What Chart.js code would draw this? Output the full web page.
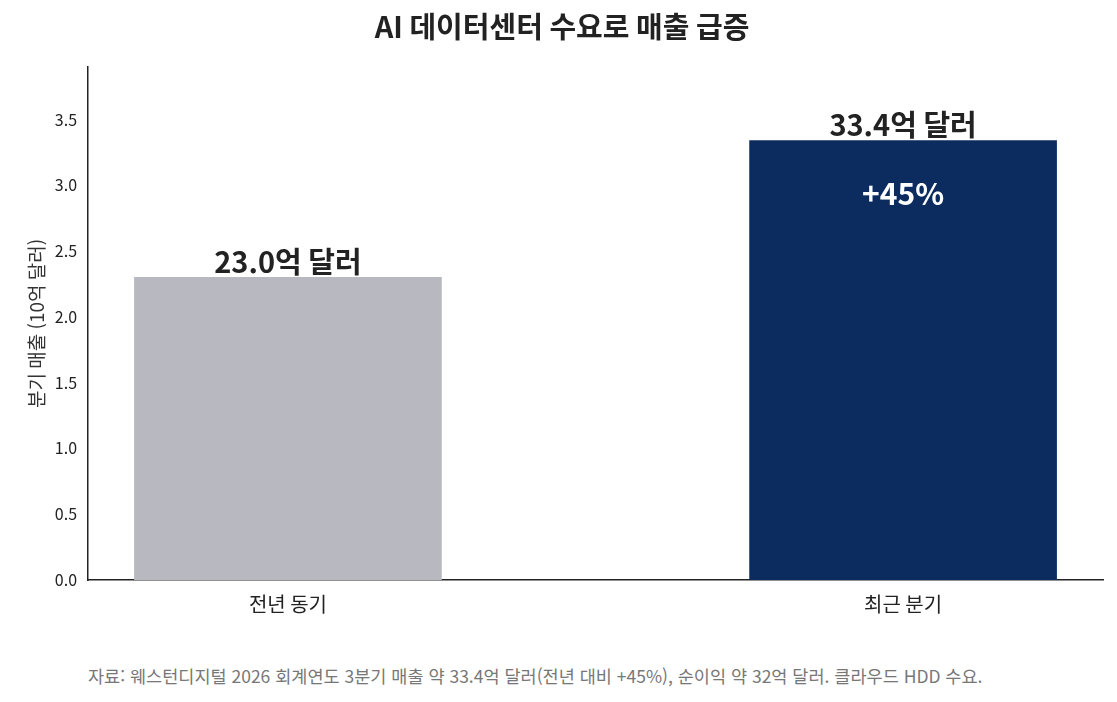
<!DOCTYPE html>
<html lang="ko">
<head>
<meta charset="utf-8">
<script src="https://cdn.jsdelivr.net/npm/chart.js@4"></script>
<style>
  body { margin: 0; background: #fff; font-family: "Noto Sans CJK KR", sans-serif; }
  #wrap { position: relative; width: 1117px; height: 702px; }
  #note { position: absolute; left: 88px; top: 663px; font-size: 17.5px; color: #777; }
</style>
</head>
<body>
<div id="wrap">
  <canvas id="c" width="1117" height="650"></canvas>
  <div id="note">자료: 웨스턴디지털 2026 회계연도 3분기 매출 약 33.4억 달러(전년 대비 +45%), 순이익 약 32억 달러. 클라우드 HDD 수요.</div>
</div>
<script>
const categories = ['전년 동기', '최근 분기'];
const revenue = [2.30, 3.34];
const barLabels = ['23.0억 달러', '33.4억 달러'];
const barColors = ['#b8b8c1', '#0c2c5f'];
const growthText = '+45%';
const font = '"Noto Sans CJK KR", sans-serif';

const labelPlugin = {
  id: 'labels',
  afterDatasetsDraw(chart) {
    const ctx = chart.ctx;
    const meta = chart.getDatasetMeta(0);
    ctx.save();
    ctx.textAlign = 'center';
    ctx.textBaseline = 'bottom';
    ctx.font = 'bold 29px ' + font;
    ctx.fillStyle = '#222';
    meta.data.forEach((bar, i) => ctx.fillText(barLabels[i], bar.x, bar.y - 1));
    const last = meta.data[1];
    ctx.fillStyle = '#fff';
    ctx.textBaseline = 'middle';
    ctx.font = 'bold 30px ' + font;
    ctx.fillText(growthText, last.x, last.y + 53);
    ctx.restore();
  }
};

new Chart(document.getElementById('c'), {
  type: 'bar',
  data: {
    datasets: [{
      data: revenue.map((v, i) => ({ x: i, y: v })),
      backgroundColor: barColors, barThickness: 307
    }]
  },
  options: {
    responsive: false,
    animation: false,
    layout: { padding: { left: 21, right: 14, top: 0, bottom: 30 } },
    plugins: {
      legend: { display: false },
      tooltip: { enabled: false },
      title: {
        display: true, text: 'AI 데이터센터 수요로 매출 급증', color: '#222',
        font: { family: font, size: 29, weight: 'bold' }, padding: { top: 10, bottom: 22 }
      }
    },
    scales: {
      x: {
        type: 'linear', min: -0.325, max: 1.325, offset: false,
        grid: { display: false, drawTicks: true },
        border: { color: '#222', width: 1.5 },
        afterBuildTicks(s) { s.ticks = [{ value: 0 }, { value: 1 }]; },
        ticks: { color: '#222', font: { family: font, size: 20 }, padding: 4, callback: v => categories[v] }
      },
      y: {
        min: 0, max: 3.9,
        grid: { display: false },
        border: { color: '#222', width: 1.5 },
        afterBuildTicks(s) { s.ticks = [0,0.5,1,1.5,2,2.5,3,3.5].map(v => ({ value: v })); },
        ticks: { color: '#222', font: { family: font, size: 16 }, callback: v => v.toFixed(1) },
        title: { display: true, text: '분기 매출 (10억 달러)', color: '#333', font: { family: font, size: 19 } }
      }
    }
  },
  plugins: [labelPlugin]
});
</script>
</body>
</html>
